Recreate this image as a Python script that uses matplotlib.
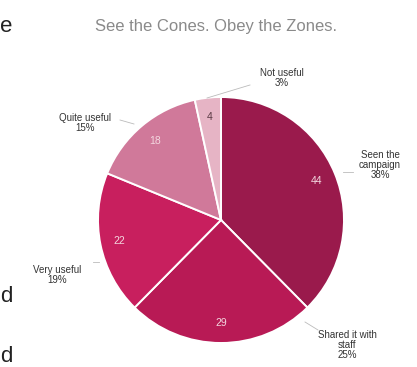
import matplotlib
matplotlib.use("Agg")
import matplotlib.pyplot as plt

plt.rcParams["font.family"] = ["Liberation Sans", "DejaVu Sans"]

# data
categories = ["Seen the\ncampaign", "Shared it with\nstaff", "Very useful", "Quite useful", "Not useful"]
counts = [44, 29, 22, 18, 4]
colors = ["#9a1a4c", "#b81a55", "#c81f5e", "#d0799a", "#e6b4c5"]
title = "See the Cones. Obey the Zones."

W, H = 417, 367
fig = plt.figure(figsize=(W / 100, H / 100), dpi=100)
ax = fig.add_axes([0, 0, 1, 1])

total = sum(counts)
cx, cy, r = 221, H - 220, 123

wedges, texts, autotexts = ax.pie(
    counts, colors=colors, startangle=90, counterclock=False,
    center=(cx, cy), radius=r, frame=True,
    autopct=lambda p: f"{p * total / 100:.0f}", pctdistance=0.84,
    wedgeprops=dict(edgecolor="white", linewidth=1.4),
    textprops=dict(color="#f3d6df", fontsize=7.5),
)
autotexts[-1].set_color("#5a3a44")  # light slice gets dark number
ax.set_xlim(0, W)
ax.set_ylim(0, H)
ax.set_aspect("equal")
ax.axis("off")

# outside labels (pixel positions from top-left)
label_pos = [(380, 165), (347, 345), (57, 275), (85, 123), (282, 78)]
line_pts = [((353, 172), (343, 172)), ((318, 330), (305, 322)),
            ((93, 262), (99, 262)), ((120, 120), (134, 124)),
            ((250, 85), (207, 98))]
for name, n, (lx, ly), (p0, p1) in zip(categories, counts, label_pos, line_pts):
    ax.text(lx, H - ly, f"{name}\n{round(100 * n / total)}%", ha="center", va="center",
            fontsize=7, color="#333333", linespacing=1.05)
    ax.plot([p0[0], p1[0]], [H - p0[1], H - p1[1]], color="#bbbbbb", lw=0.6)

ax.text(216, H - 26, title, ha="center", va="center", fontsize=12, color="#8a8a8a")

# fragments of surrounding text at the left edge
for ch, y in [("e", 26), ("d", 296), ("d", 356)]:
    ax.text(0, H - y, ch, ha="left", va="center", fontsize=16, color="#222222")

fig.savefig("out.png", dpi=100)
